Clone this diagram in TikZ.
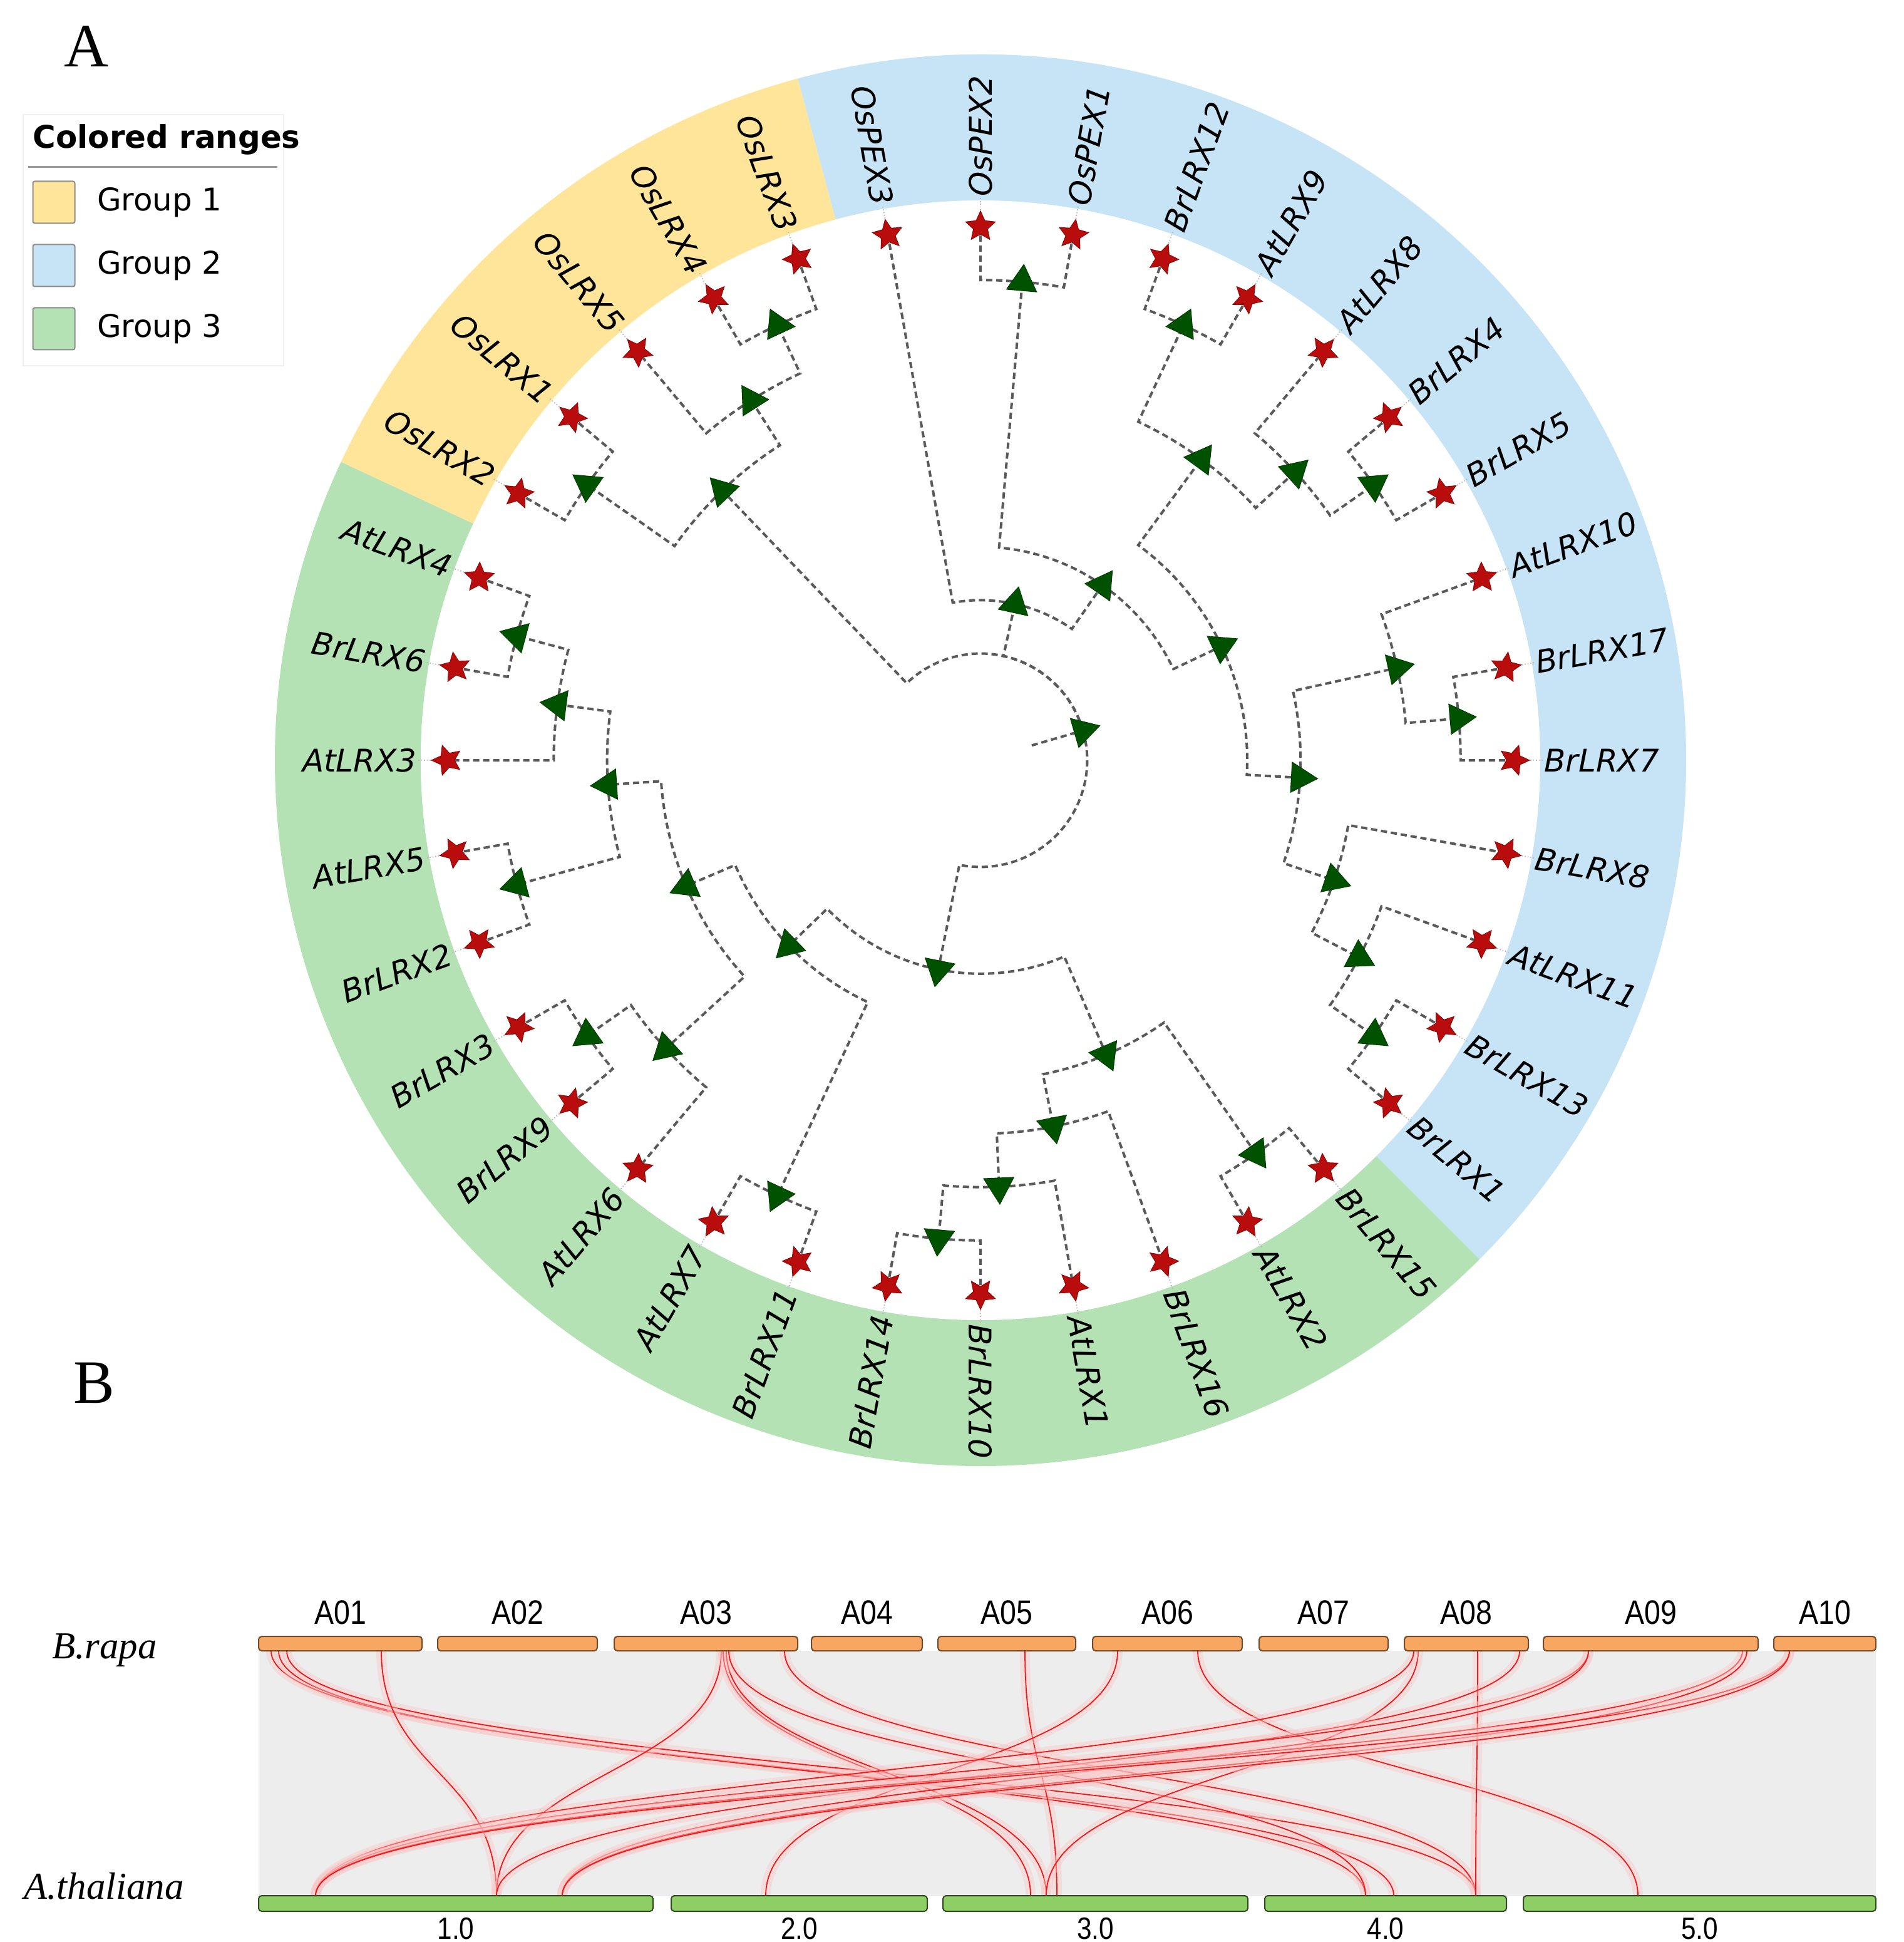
\documentclass[tikz,border=0pt]{standalone}
\usepackage{fontspec}
\setmainfont{Liberation Serif}
\newfontfamily\treefont[ItalicFont={DejaVu Sans Oblique},BoldFont={DejaVu Sans Bold}]{DejaVu Sans}
\newfontfamily\chrfont[FakeStretch=0.86]{Liberation Sans}
\usetikzlibrary{shapes.geometric, positioning}

\definecolor{groupone}{RGB}{255,229,153}
\definecolor{grouptwo}{RGB}{199,227,246}
\definecolor{groupthree}{RGB}{180,226,180}
\definecolor{starred}{RGB}{185,12,12}
\definecolor{nodegreen}{RGB}{0,82,0}
\definecolor{branchgray}{RGB}{90,90,90}
\definecolor{ribbongray}{RGB}{237,237,237}
\definecolor{chrorange}{RGB}{247,167,98}
\definecolor{chrgreen}{RGB}{141,207,101}
\definecolor{linkred}{RGB}{240,25,25}
\definecolor{linkglow}{RGB}{250,200,200}

\tikzset{
    branch/.style={draw=branchgray, line width=0.04cm, dash pattern=on 0.10cm off 0.06cm},
    leafdot/.style={draw=gray!55, line width=0.02cm, dash pattern=on 0.015cm off 0.03cm},
    leafstar/.style={star, star points=5, star point ratio=2.1, minimum size=0.50cm, inner sep=0pt,
                     fill=starred, draw=starred!75!black, line width=0.01cm},
    nodetri/.style={regular polygon, regular polygon sides=3, minimum size=0.56cm, inner sep=0pt,
                    fill=nodegreen, draw=nodegreen!75!black, line width=0.01cm},
    leaflabel/.style={font=\treefont\itshape\fontsize{14.2}{17}\selectfont, inner sep=0pt},
    legendtitle/.style={font=\treefont\bfseries\fontsize{14.2}{17}\selectfont, inner sep=0pt},
    legendtext/.style={font=\treefont\fontsize{14.2}{17}\selectfont, inner sep=0pt},
    swatch/.style={draw=gray!90, line width=0.02cm, rounded corners=0.03cm, minimum size=0.67cm, inner sep=0pt},
    topchr/.style={fill=chrorange, draw=chrorange!45!black, line width=0.02cm, rounded corners=0.05cm,
                   minimum height=0.23cm, inner sep=0pt},
    botchr/.style={fill=chrgreen, draw=chrgreen!35!black, line width=0.02cm, rounded corners=0.05cm,
                   minimum height=0.25cm, inner sep=0pt},
    chrlabel/.style={font=\chrfont\fontsize{15.4}{18}\selectfont, inner sep=0pt},
    numlabel/.style={font=\chrfont\fontsize{14}{17}\selectfont, inner sep=0pt},
    species/.style={font=\itshape\fontsize{17.3}{20}\selectfont, inner sep=0pt},
    panel/.style={font=\fontsize{28}{32}\selectfont, inner sep=0pt},
    link/.style={draw=linkred, line width=0.018cm, preaction={draw=linkglow, line width=0.16cm, opacity=0.45}}
}

% leaves (angle in degrees), split by reading side
\def\rightleaves{OsPEX2/90, OsPEX1/80, BrLRX12/70, AtLRX9/60, AtLRX8/50, BrLRX4/40, BrLRX5/30,
    AtLRX10/20, BrLRX17/10, BrLRX7/0, BrLRX8/-10, AtLRX11/-20, BrLRX13/-30, BrLRX1/-40,
    BrLRX15/-50, AtLRX2/-60, BrLRX16/-70, AtLRX1/-80, BrLRX10/-90}
\def\leftleaves{OsPEX3/100, OsLRX3/110, OsLRX4/120, OsLRX5/130, OsLRX1/140, OsLRX2/150,
    AtLRX4/-200, BrLRX6/-190, AtLRX3/-180, AtLRX5/-170, BrLRX2/-160, BrLRX3/-150, BrLRX9/-140,
    AtLRX6/-130, AtLRX7/-120, BrLRX11/-110, BrLRX14/-100}
% inner nodes: name/angle/level
\def\innernodes{root/16.17/2, nG1/133.75/7, nB/122.5/8, nA/115/9, nC/145/9, nU/77.58/3, nV/55.16/4,
    nP/85/9, nW/25.31/5, nX/53.75/7, nXa/65/9, nXb/42.5/8, nXc/35/9, nY/-3.125/6, nYa/12.5/8,
    nYb/5/9, nYc/-18.75/7, nYd/-27.5/8, nYe/-35/9, nL/-101.41/4, nLa/-135.94/5, nL12/-156.875/6,
    nL1/-176.25/7, nL1b/-187.5/8, nL1a/-195/9, nL1c/-165/9, nL2/-137.5/8, nL2a/-145/9, nL3/-115/9,
    nMb/-66.875/6, nM3/-78.75/7, nM2/-87.5/8, nM1/-95/9, nM4/-55/9}

\begin{document}
\begin{tikzpicture}
    \useasboundingbox (0,0) rectangle (30.40,-31.01);

    % Panel A
    \node[panel] (panelA) at (1.38,-0.74) {A};

    \begin{scope}[shift={(15.66,-12.14)}]
        % colored ranges
        \foreach \col/\sa/\ea in {groupone/105/155, grouptwo/-45/105, groupthree/155/315} {
            \fill[\col] (\sa:8.94) arc[start angle=\sa, end angle=\ea, radius=8.94]
                -- (\ea:11.27) arc[start angle=\ea, end angle=\sa, radius=11.27] -- cycle;
        }

        % positions of leaves and inner nodes
        \foreach \name/\ang in \rightleaves {\coordinate (\name) at (\ang:8.52);}
        \foreach \name/\ang in \leftleaves {\coordinate (\name) at (\ang:8.52);}
        \foreach \name/\ang/\lev in \innernodes {\coordinate (\name) at (\ang:{\lev*0.852});}
        \coordinate (rootbase) at (16.17:0.852);

        % branches: parent/child/parent angle/child angle/parent level
        \draw[branch] (rootbase) -- (root);
        \foreach \pnode/\cnode/\pang/\cang/\plev in {
            root/nG1/16.17/133.75/2, root/nU/16.17/77.58/2, root/nL/16.17/-101.41/2,
            nG1/nB/133.75/122.5/7, nG1/nC/133.75/145/7,
            nB/nA/122.5/115/8, nB/OsLRX5/122.5/130/8,
            nA/OsLRX3/115/110/9, nA/OsLRX4/115/120/9,
            nC/OsLRX1/145/140/9, nC/OsLRX2/145/150/9,
            nU/OsPEX3/77.58/100/3, nU/nV/77.58/55.16/3,
            nV/nP/55.16/85/4, nV/nW/55.16/25.31/4,
            nP/OsPEX2/85/90/9, nP/OsPEX1/85/80/9,
            nW/nX/25.31/53.75/5, nW/nY/25.31/-3.125/5,
            nX/nXa/53.75/65/7, nX/nXb/53.75/42.5/7,
            nXa/BrLRX12/65/70/9, nXa/AtLRX9/65/60/9,
            nXb/AtLRX8/42.5/50/8, nXb/nXc/42.5/35/8,
            nXc/BrLRX4/35/40/9, nXc/BrLRX5/35/30/9,
            nY/nYa/-3.125/12.5/6, nY/nYc/-3.125/-18.75/6,
            nYa/AtLRX10/12.5/20/8, nYa/nYb/12.5/5/8,
            nYb/BrLRX17/5/10/9, nYb/BrLRX7/5/0/9,
            nYc/BrLRX8/-18.75/-10/7, nYc/nYd/-18.75/-27.5/7,
            nYd/AtLRX11/-27.5/-20/8, nYd/nYe/-27.5/-35/8,
            nYe/BrLRX13/-35/-30/9, nYe/BrLRX1/-35/-40/9,
            nL/nLa/-101.41/-135.94/4, nL/nMb/-101.41/-66.875/4,
            nLa/nL12/-135.94/-156.875/5, nLa/nL3/-135.94/-115/5,
            nL12/nL1/-156.875/-176.25/6, nL12/nL2/-156.875/-137.5/6,
            nL1/nL1b/-176.25/-187.5/7, nL1/nL1c/-176.25/-165/7,
            nL1b/nL1a/-187.5/-195/8, nL1b/AtLRX3/-187.5/-180/8,
            nL1a/AtLRX4/-195/-200/9, nL1a/BrLRX6/-195/-190/9,
            nL1c/AtLRX5/-165/-170/9, nL1c/BrLRX2/-165/-160/9,
            nL2/nL2a/-137.5/-145/8, nL2/AtLRX6/-137.5/-130/8,
            nL2a/BrLRX3/-145/-150/9, nL2a/BrLRX9/-145/-140/9,
            nL3/AtLRX7/-115/-120/9, nL3/BrLRX11/-115/-110/9,
            nMb/nM3/-66.875/-78.75/6, nMb/nM4/-66.875/-55/6,
            nM3/nM2/-78.75/-87.5/7, nM3/BrLRX16/-78.75/-70/7,
            nM2/nM1/-87.5/-95/8, nM2/AtLRX1/-87.5/-80/8,
            nM1/BrLRX14/-95/-100/9, nM1/BrLRX10/-95/-90/9,
            nM4/AtLRX2/-55/-60/9, nM4/BrLRX15/-55/-50/9} {
            \pgfmathsetmacro{\brad}{\plev*0.852}
            \draw[branch] (\pnode) arc[start angle=\pang, end angle=\cang, radius=\brad] -- (\cnode);
        }

        % node symbols
        \foreach \name/\ang/\lev in \innernodes {\node[nodetri, rotate=\ang-90] (t\name) at (\name) {};}
        \foreach \name/\ang in \rightleaves {
            \node[leafstar, rotate=\ang-90] (s\name) at (\name) {};
            \node[leaflabel, anchor=west, rotate=\ang] (l\name) at (\ang:9.0) {\name};
            \draw[leafdot] (s\name) -- (l\name);
        }
        \foreach \name/\ang in \leftleaves {
            \node[leafstar, rotate=\ang-90] (s\name) at (\name) {};
            \node[leaflabel, anchor=east, rotate=\ang+180] (l\name) at (\ang:9.0) {\name};
            \draw[leafdot] (s\name) -- (l\name);
        }
    \end{scope}

    % legend
    \node[draw=gray!12, line width=0.02cm, minimum width=4.16cm, minimum height=4.01cm,
          anchor=north west, inner sep=0pt] (legendbox) at (0.36,-1.82) {};
    \node[legendtitle, anchor=west] (legendhead) at (0.52,-2.23) {Colored ranges};
    \draw[gray!80, line width=0.03cm] (0.45,-2.67) -- (4.43,-2.67);
    \foreach \i/\col/\y in {1/groupone/3.23, 2/grouptwo/4.24, 3/groupthree/5.25} {
        \node[swatch, fill=\col] (swatch\i) at (0.86,-\y) {};
        \node[legendtext, right=0.34cm of swatch\i] (group\i) {Group \i};
    }

    % Panel B
    \node[panel] (panelB) at (1.50,-22.08) {B};
    \node[species] (brapa) at (1.67,-26.35) {B.rapa};
    \node[species] (athal) at (1.66,-30.12) {A.thaliana};

    \fill[ribbongray] (4.13,-26.36) rectangle (29.96,-30.27);

    % syntenic links: top position / bottom position
    \foreach \xa/\xb in {433/2226, 445/2181, 458/2357, 609/793, 1152/793, 1155/1646, 1160/1671,
                         1164/2181, 1253/2357, 1637/1688, 1785/1223, 1913/2616, 2265/1671,
                         2258/504, 2360/2357, 2427/793, 2537/504, 2537/898, 2783/504, 2790/898,
                         2858/504, 2858/898} {
        \draw[link] (\xa/100,-26.36) .. controls (\xa/100,-28.3) and (\xb/100,-28.3) .. (\xb/100,-30.27);
    }

    % chromosomes
    \foreach \name/\xa/\xb in {A01/413/674, A02/699/954, A03/981/1274, A04/1296/1473, A05/1498/1718,
                               A06/1745/1984, A07/2011/2217, A08/2243/2441, A09/2465/2808, A10/2833/2996} {
        \pgfmathsetmacro{\bw}{(\xb-\xa)/100}
        \pgfmathsetmacro{\bx}{(\xa+\xb)/200}
        \node[topchr, minimum width=\bw cm] (\name) at (\bx,-26.245) {};
        \node[chrlabel, above=0.17cm of \name] (lab\name) {\name};
    }
    \foreach \num/\xa/\xb in {1/413/1043, 2/1072/1481, 3/1506/1993, 4/2020/2406, 5/2433/2996} {
        \pgfmathsetmacro{\bw}{(\xb-\xa)/100}
        \pgfmathsetmacro{\bx}{(\xa+\xb)/200}
        \node[botchr, minimum width=\bw cm] (chr\num) at (\bx,-30.395) {};
        \node[numlabel, below=0.08cm of chr\num] (labchr\num) {\num.0};
    }
\end{tikzpicture}
\end{document}
